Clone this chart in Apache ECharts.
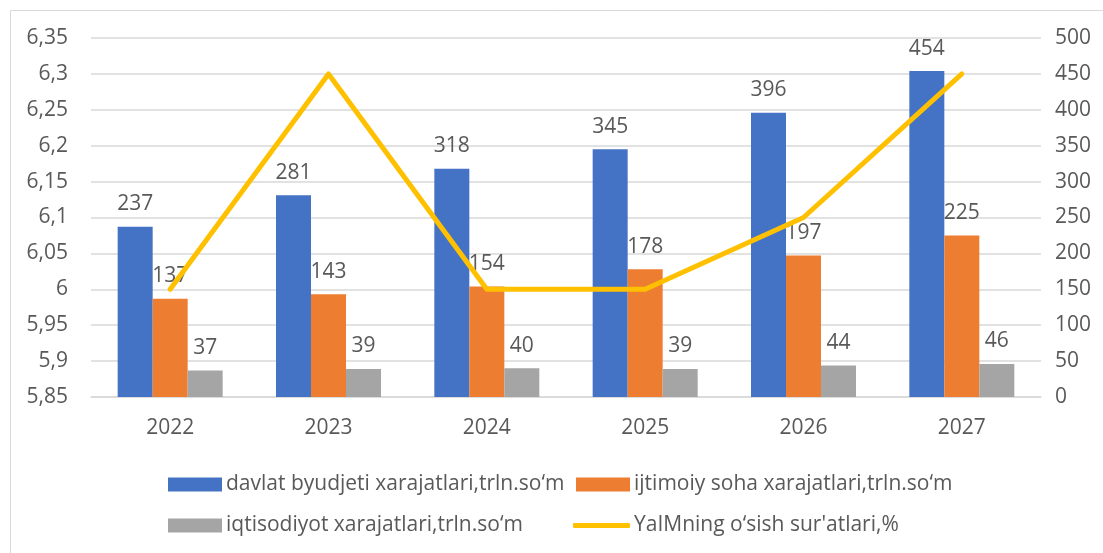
<!DOCTYPE html>
<html>
<head>
<meta charset="utf-8">
<script src="https://cdn.jsdelivr.net/npm/echarts@6/dist/echarts.min.js"></script>
<style>
  html, body { margin: 0; padding: 0; background: #fff; }
  #chart { width: 1103px; height: 553px; }
</style>
</head>
<body>
<div id="chart"></div>
<script>
const years = ['2022', '2023', '2024', '2025', '2026', '2027'];
const budget = [237, 281, 318, 345, 396, 454];
const social = [137, 143, 154, 178, 197, 225];
const economy = [37, 39, 40, 39, 44, 46];
const gdpGrowth = [6.0, 6.3, 6.0, 6.0, 6.1, 6.3];

const names = [
    'davlat byudjeti xarajatlari,trln.so‘m',
    'ijtimoiy soha xarajatlari,trln.so‘m',
    'iqtisodiyot xarajatlari,trln.so‘m',
    'YaIMning o‘sish sur\'atlari,%'
];

const font = '"Open Sans", sans-serif';
const textColor = '#595959';

const chart = echarts.init(document.getElementById('chart'));

// one legend per item so each sits where it does in the picture
function legendAt(name, left, top, icon) {
    return {
        data: [name],
        left: left,
        top: top,
        icon: icon,
        itemWidth: icon === 'rect' ? 54 : 57,
        itemHeight: icon === 'rect' ? 14 : 5,
        itemGap: 6,
        textStyle: { color: textColor, fontSize: 21, fontFamily: font, padding: [0, 0, 0, -1] }
    };
}

const barLabel = {
    show: true,
    position: 'top',
    distance: 12,
    color: textColor,
    fontSize: 21,
    fontFamily: font
};

chart.setOption({
    animation: false,
    graphic: [{
        type: 'rect',
        left: 8,
        top: 8,
        shape: { width: 1200, height: 600 },
        style: { fill: 'none', stroke: '#D9D9D9', lineWidth: 1 }
    }],
    grid: { left: 91, right: 62, top: 38, bottom: 156 },
    legend: [
        legendAt(names[0], 163, 469, 'rect'),
        legendAt(names[1], 571, 469, 'rect'),
        legendAt(names[2], 163, 510, 'rect'),
        legendAt(names[3], 568, 510, 'roundRect')
    ],
    xAxis: {
        type: 'category',
        data: years,
        axisTick: { show: false },
        axisLine: { lineStyle: { color: '#D9D9D9', width: 1.5 } },
        axisLabel: { color: textColor, fontSize: 21, fontFamily: font, margin: 21 }
    },
    yAxis: [{
        type: 'value',
        min: 5.85,
        max: 6.35,
        interval: 0.05,
        axisLine: { show: false },
        axisTick: { show: false },
        splitLine: { lineStyle: { color: '#D9D9D9', width: 1.5 } },
        axisLabel: {
            color: textColor, fontSize: 21, fontFamily: font, margin: 23,
            formatter: v => String(+v.toFixed(2)).replace('.', ',')
        }
    }, {
        type: 'value',
        min: 0,
        max: 500,
        interval: 50,
        axisLine: { show: false },
        axisTick: { show: false },
        splitLine: { show: false },
        axisLabel: { color: textColor, fontSize: 21, fontFamily: font, margin: 14 }
    }],
    series: [{
        name: names[0],
        type: 'bar',
        yAxisIndex: 1,
        data: budget,
        barWidth: 35,
        barGap: '0%',
        itemStyle: { color: '#4472C4' },
        label: barLabel
    }, {
        name: names[1],
        type: 'bar',
        yAxisIndex: 1,
        data: social,
        barWidth: 35,
        barGap: '0%',
        itemStyle: { color: '#ED7D31' },
        label: barLabel
    }, {
        name: names[2],
        type: 'bar',
        yAxisIndex: 1,
        data: economy,
        barWidth: 35,
        barGap: '0%',
        itemStyle: { color: '#A5A5A5' },
        label: barLabel
    }, {
        name: names[3],
        type: 'line',
        yAxisIndex: 0,
        data: gdpGrowth,
        showSymbol: false,
        symbol: 'none',
        itemStyle: { color: '#FFC000' },
        lineStyle: { color: '#FFC000', width: 5, cap: 'round', join: 'round' },
        z: 5
    }]
});
</script>
</body>
</html>
